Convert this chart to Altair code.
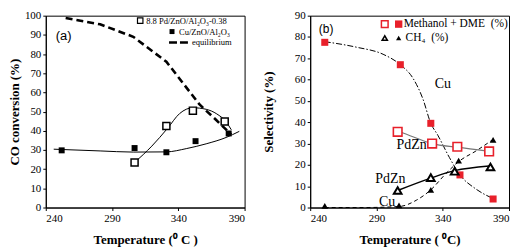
import altair as alt
import pandas as pd

SERIF = "Liberation Serif"
SANS = "Liberation Sans"
RED = "#e8202a"

# ---------------- panel (a) data ----------------
pd_T = [307, 331, 351, 375]
pd_conv = [23.5, 42.5, 50.5, 44.8]
cu_T = [252, 307, 331, 353, 378]
cu_conv = [29.8, 31.0, 28.8, 34.6, 38.6]
eq_T = [255, 281, 306, 331, 356, 368, 380]
eq_conv = [98.8, 95.5, 89.0, 76.0, 53.7, 46.0, 38.0]
pdfit_T = [307, 320, 332, 341, 351, 361, 369, 376, 380]
pdfit_conv = [23.5, 32.0, 41.4, 49.0, 52.0, 51.2, 48.8, 44.7, 40.5]
cufit_T = [246, 281, 306, 331, 346, 361, 376, 386]
cufit_conv = [30.4, 29.5, 28.9, 29.0, 30.7, 33.2, 36.5, 39.7]

# ---------------- panel (b) data ----------------
meoh_cu_T = [251, 308, 331, 353, 378]
meoh_cu = [77.5, 67.0, 39.5, 15.3, 4.0]
meoh_pd_T = [306, 332, 351, 375]
meoh_pd = [35.5, 30.0, 28.5, 26.3]
ch4_cu_T = [251, 307, 331, 352, 378]
ch4_cu = [0.8, 1.0, 8.3, 22.0, 31.7]
ch4_pd_T = [306, 331, 349, 376]
ch4_pd = [8.0, 14.0, 17.0, 19.0]

meoh_cu_fit_T = [251, 275, 295, 308, 317.5, 325, 331, 336.3, 345, 353, 365, 378]
meoh_cu_fit = [77.8, 75.2, 71.9, 67.0, 60.7, 51.0, 39.5, 33.9, 23.5, 15.3, 8.7, 4.2]
ch4_cu_fit_T = [251, 280, 307.5, 320, 331, 342.5, 353, 365, 379]
ch4_cu_fit = [0.0, 0.0, 0.5, 3.4, 8.3, 16.0, 22.0, 26.5, 32.4]
meoh_pd_fit_T = [306, 317.5, 332, 351, 374]
meoh_pd_fit = [36.0, 33.2, 30.0, 28.3, 26.5]
ch4_pd_fit_T = [306, 331, 349, 375]
ch4_pd_fit = [8.0, 13.8, 17.3, 19.5]

labels_b = ["Cu", "PdZn", "PdZn", "Cu"]
labels_b_T = [340, 316.5, 300.5, 298]
labels_b_v = [58, 29.5, 13.2, 2.8]

x_ticks = [240, 290, 340, 390]

W, H = 200, 193


def xenc(title):
    return alt.X(
        "T:Q",
        scale=alt.Scale(domain=[240, 390], nice=False),
        axis=alt.Axis(values=x_ticks, title=title),
    )


def yenc(title, top, tx):
    return alt.Y(
        "v:Q",
        scale=alt.Scale(domain=[0, top], nice=False),
        axis=alt.Axis(
            values=list(range(0, top + 1, 10)),
            title=title,
            titleX=tx,
            titleY=H / 2,
            titleAlign="center",
            titleBaseline="bottom",
            titleAngle=270,
        ),
    )


def df(t, v):
    return pd.DataFrame({"T": t, "v": v})


# ---------------- panel (a) ----------------
xa = xenc("Temperature (\u2070 C )")
ya = yenc("CO conversion (%)", 100, -24)

eq_line = alt.Chart(df(eq_T, eq_conv)).mark_line(
    color="black", strokeWidth=2.6, strokeDash=[7, 4]
).encode(x=xa, y=ya)
pd_fit = alt.Chart(df(pdfit_T, pdfit_conv)).mark_line(
    color="black", strokeWidth=1, interpolate="monotone"
).encode(x=xa, y=ya)
cu_fit = alt.Chart(df(cufit_T, cufit_conv)).mark_line(
    color="black", strokeWidth=1, interpolate="monotone"
).encode(x=xa, y=ya)
pd_pts = alt.Chart(df(pd_T, pd_conv)).mark_point(
    shape="square", filled=True, fill="white", stroke="black", strokeWidth=1.5, size=50, opacity=1
).encode(x=xa, y=ya)
cu_pts = alt.Chart(df(cu_T, cu_conv)).mark_point(
    shape="square", filled=True, color="black", size=36, opacity=1
).encode(x=xa, y=ya)

leg_a_names = ["8.8 Pd/ZnO/Al\u2082O\u2083-0.38", "Cu/ZnO/Al\u2082O\u2083", "equilibrium"]
leg_a = pd.DataFrame({"name": leg_a_names})

la1 = alt.Chart(leg_a.iloc[[0]]).mark_point(
    shape="square", filled=True, fill="white", stroke="black", strokeWidth=1.2, size=30, opacity=1
).encode(x=alt.value(95), y=alt.value(5))
la2 = alt.Chart(leg_a.iloc[[1]]).mark_point(
    shape="square", filled=True, color="black", size=25, opacity=1
).encode(x=alt.value(127), y=alt.value(16))
la3 = alt.Chart(leg_a.iloc[[2]]).mark_rule(
    color="black", strokeWidth=2.4, strokeDash=[8, 3]
).encode(x=alt.value(124), x2=alt.value(146), y=alt.value(27))
lt1 = alt.Chart(leg_a.iloc[[0]]).mark_text(
    font=SERIF, fontSize=8.6, align="left", baseline="middle", color="black"
).encode(x=alt.value(101), y=alt.value(5), text="name:N")
lt2 = alt.Chart(leg_a.iloc[[1]]).mark_text(
    font=SERIF, fontSize=8.6, align="left", baseline="middle", color="black"
).encode(x=alt.value(134), y=alt.value(16), text="name:N")
lt3 = alt.Chart(leg_a.iloc[[2]]).mark_text(
    font=SERIF, fontSize=8.6, align="left", baseline="middle", color="black"
).encode(x=alt.value(147), y=alt.value(27), text="name:N")
tag_a = alt.Chart(pd.DataFrame({"t": ["(a)"]})).mark_text(
    font=SANS, fontSize=13, align="center", baseline="middle", color="black"
).encode(x=alt.value(18), y=alt.value(20), text="t:N")

panel_a = alt.layer(
    eq_line, pd_fit, cu_fit, pd_pts, cu_pts, la1, la2, la3, lt1, lt2, lt3, tag_a
).properties(width=W, height=H)

# ---------------- panel (b) ----------------
xb = xenc("Temperature ( \u2070C)")
yb = yenc("Selectivity (%)", 90, -35)

l_meoh_cu = alt.Chart(df(meoh_cu_fit_T, meoh_cu_fit)).mark_line(
    color="black", strokeWidth=1, strokeDash=[6, 2, 1.5, 2], interpolate="monotone"
).encode(x=xb, y=yb)
l_ch4_cu = alt.Chart(df(ch4_cu_fit_T, ch4_cu_fit)).mark_line(
    color="black", strokeWidth=1, strokeDash=[4, 3], interpolate="monotone"
).encode(x=xb, y=yb)
l_meoh_pd = alt.Chart(df(meoh_pd_fit_T, meoh_pd_fit)).mark_line(
    color="#777777", strokeWidth=1.2, interpolate="monotone"
).encode(x=xb, y=yb)
l_ch4_pd = alt.Chart(df(ch4_pd_fit_T, ch4_pd_fit)).mark_line(
    color="black", strokeWidth=1.5, interpolate="monotone"
).encode(x=xb, y=yb)

p_meoh_cu = alt.Chart(df(meoh_cu_T, meoh_cu)).mark_point(
    shape="square", filled=True, color=RED, size=50, opacity=1
).encode(x=xb, y=yb)
p_meoh_pd = alt.Chart(df(meoh_pd_T, meoh_pd)).mark_point(
    shape="square", filled=True, fill="white", stroke=RED, strokeWidth=1.6, size=75, opacity=1
).encode(x=xb, y=yb)
p_ch4_cu = alt.Chart(df(ch4_cu_T, ch4_cu)).mark_point(
    shape="triangle-up", filled=True, color="black", size=45, opacity=1
).encode(x=xb, y=yb)
p_ch4_pd = alt.Chart(df(ch4_pd_T, ch4_pd)).mark_point(
    shape="triangle-up", filled=True, fill="white", stroke="black", strokeWidth=2, size=60, opacity=1
).encode(x=xb, y=yb)

lab_b = alt.Chart(pd.DataFrame({"T": labels_b_T, "v": labels_b_v, "t": labels_b})).mark_text(
    font=SERIF, fontSize=14, align="center", baseline="middle", color="black"
).encode(x=xb, y=yb, text="t:N")

leg_b = pd.DataFrame({"name": ["Methanol + DME\u00a0\u00a0(%)", "CH\u2084\u00a0\u00a0(%)"]})
lb1 = alt.Chart(leg_b.iloc[[0]]).mark_point(
    shape="square", filled=True, fill="white", stroke=RED, strokeWidth=1.5, size=45, opacity=1
).encode(x=alt.value(75), y=alt.value(8.5))
lb2 = alt.Chart(leg_b.iloc[[0]]).mark_point(
    shape="square", filled=True, color=RED, size=55, opacity=1
).encode(x=alt.value(89), y=alt.value(8.5))
lb3 = alt.Chart(leg_b.iloc[[1]]).mark_point(
    shape="triangle-up", filled=True, fill="white", stroke="black", strokeWidth=1.5, size=28, opacity=1
).encode(x=alt.value(75), y=alt.value(22.5))
lb4 = alt.Chart(leg_b.iloc[[1]]).mark_point(
    shape="triangle-up", filled=True, color="black", size=28, opacity=1
).encode(x=alt.value(89), y=alt.value(22.5))
lbt1 = alt.Chart(leg_b.iloc[[0]]).mark_text(
    font=SERIF, fontSize=11.5, align="left", baseline="middle", color="black"
).encode(x=alt.value(94), y=alt.value(8.5), text="name:N")
lbt2 = alt.Chart(leg_b.iloc[[1]]).mark_text(
    font=SERIF, fontSize=11.5, align="left", baseline="middle", color="black"
).encode(x=alt.value(96), y=alt.value(22.5), text="name:N")
tag_b = alt.Chart(pd.DataFrame({"t": ["(b)"]})).mark_text(
    font=SANS, fontSize=12, align="center", baseline="middle", color="black"
).encode(x=alt.value(16), y=alt.value(13), text="t:N")

panel_b = alt.layer(
    l_meoh_cu, l_ch4_cu, l_meoh_pd, l_ch4_pd,
    p_meoh_pd, p_meoh_cu, p_ch4_pd, p_ch4_cu,
    lab_b, lb1, lb2, lb3, lb4, lbt1, lbt2, tag_b
).properties(width=W, height=H)

chart = alt.hconcat(panel_a, panel_b, spacing=16).properties(
    padding={"left": 0, "top": 0, "right": 0, "bottom": 0}, background="white"
).configure_view(
    stroke="black", strokeWidth=1
).configure_axis(
    grid=False,
    domainColor="black",
    tickColor="black",
    tickSize=3,
    labelFont=SERIF,
    labelFontSize=11,
    labelColor="black",
    labelPadding=2,
    titleFont=SERIF,
    titleFontSize=13,
    titleFontWeight="bold",
    titleColor="black",
).configure_axisX(
    titlePadding=10
)

chart.save("out.html", embed_options={"renderer": "svg", "actions": False})
